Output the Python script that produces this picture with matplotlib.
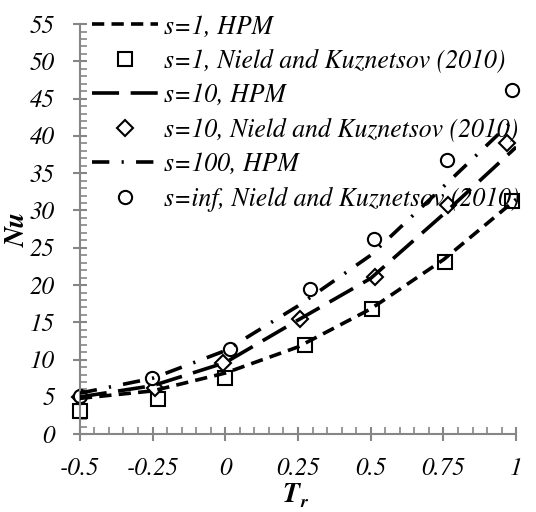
import matplotlib
matplotlib.use("Agg")
import matplotlib.pyplot as plt
from matplotlib.ticker import MultipleLocator

# Data
tr = [-0.5, -0.25, 0.0, 0.25, 0.5, 0.75, 1.0]
hpm_s1 = [4.8, 5.8, 8.2, 11.7, 16.8, 23.4, 31.5]
hpm_s10 = [5.0, 6.5, 9.6, 15.3, 20.9, 29.5, 38.5]
hpm_s100 = [5.5, 7.5, 11.2, 17.2, 24.0, 33.2, 42.5]

nk_s1_x = [-0.5, -0.23, 0.0, 0.274, 0.505, 0.756, 0.986]
nk_s1_y = [3.1, 4.7, 7.55, 11.9, 16.8, 23.1, 31.3]
nk_s10_x = [-0.5, -0.242, -0.008, 0.256, 0.514, 0.766, 0.969]
nk_s10_y = [5.0, 6.2, 9.5, 15.4, 21.1, 30.7, 39.1]
nk_sinf_x = [-0.5, -0.253, 0.016, 0.291, 0.511, 0.762, 0.987]
nk_sinf_y = [5.1, 7.5, 11.4, 19.5, 26.2, 36.8, 46.2]

xticks = [-0.5, -0.25, 0, 0.25, 0.5, 0.75, 1]
xtick_labels = ["-0.5", "-0.25", "0", "0.25", "0.5", "0.75", "1"]
yticks = list(range(0, 56, 5))
ytick_labels = [str(v) for v in yticks]

labels = ["s=1, HPM", "s=1, Nield and Kuznetsov (2010)", "s=10, HPM",
          "s=10, Nield and Kuznetsov (2010)", "s=100, HPM",
          "s=inf, Nield and Kuznetsov (2010)"]

plt.rcParams['font.family'] = ['STIXGeneral', 'DejaVu Serif']

fig = plt.figure(figsize=(5.36, 5.12), dpi=100)
ax = fig.add_axes([0.149, 0.152, 0.814, 0.801])

lw = 2.6
h1, = ax.plot(tr, hpm_s1, color='black', lw=lw, dashes=(3.4, 2.0), dash_capstyle='butt')
h2, = ax.plot(nk_s1_x, nk_s1_y, linestyle='none', marker='s', ms=10, mfc='white', mec='black', mew=1.5, clip_on=False)
h3, = ax.plot(tr, hpm_s10, color='black', lw=lw, dashes=(7.5, 3.2), dash_capstyle='butt')
h4, = ax.plot(nk_s10_x, nk_s10_y, linestyle='none', marker='D', ms=8, mfc='white', mec='black', mew=1.5, clip_on=False)
h5, = ax.plot(tr, hpm_s100, color='black', lw=lw, dashes=(4.8, 3.4, 0.6, 3.4), dash_capstyle='butt')
h6, = ax.plot(nk_sinf_x, nk_sinf_y, linestyle='none', marker='o', ms=9.5, mfc='white', mec='black', mew=1.5, clip_on=False)

for h in (h1, h3, h5):
    h.set_zorder(3)
for h in (h2, h4, h6):
    h.set_zorder(2)

ax.set_xlim(-0.5, 1)
ax.set_ylim(0, 55)

gray = '#868686'
for side in ['top', 'right']:
    ax.spines[side].set_visible(False)
for side in ['left', 'bottom']:
    ax.spines[side].set_color(gray)
    ax.spines[side].set_linewidth(1.5)

ax.set_xticks(xticks)
ax.set_xticklabels(xtick_labels, fontstyle='italic', fontsize=18)
ax.xaxis.set_minor_locator(MultipleLocator(0.05))
ax.set_yticks(yticks)
ax.set_yticklabels(ytick_labels, fontstyle='italic', fontsize=18)
ax.yaxis.set_minor_locator(MultipleLocator(1))

ax.tick_params(axis='x', which='major', direction='inout', length=10, width=1.5, color=gray, pad=12)
ax.tick_params(axis='x', which='minor', direction='in', length=5, width=1.2, color=gray)
ax.tick_params(axis='y', which='major', direction='inout', length=10, width=1.5, color=gray, pad=13)
ax.tick_params(axis='y', which='minor', direction='in', length=5, width=1.2, color=gray)

fig.text(0.543, 0.008, 'T', fontsize=20, fontstyle='italic', fontweight='bold', ha='center', va='bottom')
fig.text(0.566, 0.002, 'r', fontsize=13, fontstyle='italic', fontweight='bold', ha='center', va='bottom')
ax.set_ylabel('Nu', fontsize=20, fontstyle='italic', fontweight='bold')
ax.yaxis.set_label_coords(-0.112, 0.5)

leg = ax.legend([h1, h2, h3, h4, h5, h6], labels, loc='upper left',
                bbox_to_anchor=(0.005, 1.048), frameon=False,
                prop={'style': 'italic', 'size': 18.5}, handlelength=2.55,
                handletextpad=0.25, labelspacing=0.38, borderaxespad=0.0)

fig.savefig('out.png', dpi=100)
